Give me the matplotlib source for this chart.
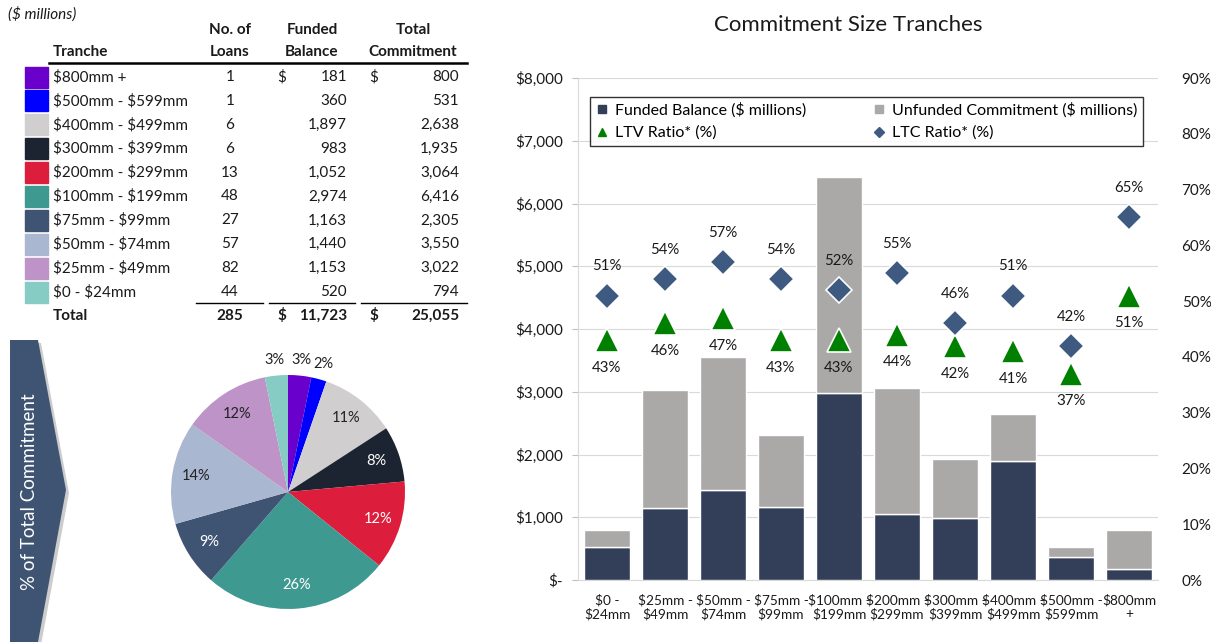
import matplotlib
matplotlib.use("Agg")
import matplotlib.pyplot as plt
from matplotlib.patches import Polygon, Rectangle
from matplotlib.lines import Line2D
import numpy as np

plt.rcParams['font.family'] = ['Lato', 'DejaVu Sans']
plt.rcParams['text.parse_math'] = False

# ---------------- data ----------------
tranches = ["$800mm +", "$500mm - $599mm", "$400mm - $499mm", "$300mm - $399mm",
            "$200mm - $299mm", "$100mm - $199mm", "$75mm - $99mm", "$50mm - $74mm",
            "$25mm - $49mm", "$0 - $24mm"]
tranche_colors = ["#6A00CC", "#0000FF", "#D0CECE", "#1C2331", "#DC1E3C",
                  "#3E9990", "#3F5473", "#A9B7D0", "#BE93C8", "#86CBC4"]
num_loans = [1, 1, 6, 6, 13, 48, 27, 57, 82, 44]
funded_balance = [181, 360, 1897, 983, 1052, 2974, 1163, 1440, 1153, 520]
total_commitment = [800, 531, 2638, 1935, 3064, 6416, 2305, 3550, 3022, 794]

bar_labels = ["$0 -\n$24mm", "$25mm -\n$49mm", "$50mm -\n$74mm", "$75mm -\n$99mm",
              "$100mm -\n$199mm", "$200mm -\n$299mm", "$300mm -\n$399mm",
              "$400mm -\n$499mm", "$500mm -\n$599mm", "$800mm\n+"]
bar_funded = [520, 1153, 1440, 1163, 2974, 1052, 983, 1897, 360, 181]
bar_total = [794, 3022, 3550, 2305, 6416, 3064, 1935, 2638, 531, 800]
ltv_ratio = [43, 46, 47, 43, 43, 44, 42, 41, 37, 51]
ltc_ratio = [51, 54, 57, 54, 52, 55, 46, 51, 42, 65]

pie_label_colors = ["#222222", "#222222", "#222222", "white", "white",
                    "white", "white", "#222222", "#222222", "#222222"]

W, H = 1211, 642
fig = plt.figure(figsize=(W / 100, H / 100), dpi=100)

# ---------------- background (pixel coords) ----------------
bg = fig.add_axes([0, 0, 1, 1])
bg.set_xlim(0, W)
bg.set_ylim(H, 0)
bg.axis('off')

txt = "#1a1a1a"
fs = 11
bg.text(8, 14, "($ millions)", fontsize=fs, style='italic', color=txt, va='center')
bg.text(53, 52, "Tranche", fontsize=fs, weight='bold', color=txt, va='center')
bg.text(230, 30, "No. of", fontsize=fs, weight='bold', color=txt, va='center', ha='center')
bg.text(230, 52, "Loans", fontsize=fs, weight='bold', color=txt, va='center', ha='center')
bg.text(312, 30, "Funded", fontsize=fs, weight='bold', color=txt, va='center', ha='center')
bg.text(312, 52, "Balance", fontsize=fs, weight='bold', color=txt, va='center', ha='center')
bg.text(413, 30, "Total", fontsize=fs, weight='bold', color=txt, va='center', ha='center')
bg.text(413, 52, "Commitment", fontsize=fs, weight='bold', color=txt, va='center', ha='center')
bg.plot([49, 467], [63, 63], color="black", lw=1.8)

row0, dy = 77, 23.9
for i, name in enumerate(tranches):
    y = row0 + i * dy
    bg.add_patch(Rectangle((25, y - 10.5), 23, 21, color=tranche_colors[i]))
    bg.text(53, y, name, fontsize=fs, color=txt, va='center')
    bg.text(230, y, f"{num_loans[i]}", fontsize=fs, color=txt, va='center', ha='center')
    bg.text(347, y, f"{funded_balance[i]:,}", fontsize=fs, color=txt, va='center', ha='right')
    bg.text(459, y, f"{total_commitment[i]:,}", fontsize=fs, color=txt, va='center', ha='right')
    if i == 0:
        bg.text(277, y, "$", fontsize=fs, color=txt, va='center')
        bg.text(369, y, "$", fontsize=fs, color=txt, va='center')

yt = 316
for x0, x1 in [(196, 263), (269, 355), (361, 467)]:
    bg.plot([x0, x1], [303, 303], color="black", lw=1.0)
bg.text(53, yt, "Total", fontsize=fs, weight='bold', color=txt, va='center')
bg.text(230, yt, f"{sum(num_loans)}", fontsize=fs, weight='bold', color=txt, va='center', ha='center')
bg.text(277, yt, "$", fontsize=fs, weight='bold', color=txt, va='center')
bg.text(347, yt, f"{sum(funded_balance):,}", fontsize=fs, weight='bold', color=txt, va='center', ha='right')
bg.text(369, yt, "$", fontsize=fs, weight='bold', color=txt, va='center')
bg.text(459, yt, f"{sum(total_commitment):,}", fontsize=fs, weight='bold', color=txt, va='center', ha='right')

# banner chevron
shadow = Polygon([(12, 343), (41, 343), (69, 493), (41, 645), (12, 645)],
                 closed=True, color="#9a9a9a", alpha=0.5, lw=0)
bg.add_patch(shadow)
banner = Polygon([(10, 340), (38, 340), (66, 490), (38, 642), (10, 642)],
                 closed=True, color="#3F5473", lw=0)
bg.add_patch(banner)
bg.text(30, 492, "% of Total Commitment", rotation=90, color="white",
        fontsize=13.5, ha='center', va='center')
bg.set_zorder(0)

# ---------------- pie ----------------
cx, cy, r = 288, 492, 117
pax = fig.add_axes([(cx - r) / W, (H - cy - r) / H, 2 * r / W, 2 * r / H])
wedges, _ = pax.pie(total_commitment, colors=tranche_colors, startangle=90,
                    counterclock=False, radius=1.0,
                    wedgeprops=dict(linewidth=0))
pax.set_xlim(-1, 1)
pax.set_ylim(-1, 1)
pax.set_aspect('auto')
tot = sum(total_commitment)
for i, w in enumerate(wedges):
    pct = total_commitment[i] / tot * 100
    ang = np.deg2rad((w.theta1 + w.theta2) / 2)
    d = 1.13 if pct < 5 else 0.8
    pax.text(d * np.cos(ang), d * np.sin(ang), f"{pct:.0f}%", ha='center', va='center',
             fontsize=10.5, color=pie_label_colors[i])

# ---------------- bar chart ----------------
left, right, top, bottom = 578, 1158, 78, 580
ax = fig.add_axes([left / W, (H - bottom) / H, (right - left) / W, (bottom - top) / H])
x = np.arange(len(bar_labels))
unfunded = [t - f for t, f in zip(bar_total, bar_funded)]
navy = "#333F58"
gray = "#ABA8A8"
ax.bar(x, bar_funded, width=0.8, color=navy, edgecolor="white", linewidth=1.0, zorder=3)
ax.bar(x, unfunded, bottom=bar_funded, width=0.8, color=gray, edgecolor="white",
       linewidth=1.0, zorder=3)
ax.set_xlim(-0.5, len(x) - 0.5)
ax.set_ylim(0, 8000)
ax.set_yticks(range(0, 8001, 1000))
ax.set_yticklabels(["$-"] + [f"${v:,}" for v in range(1000, 8001, 1000)])
ax.yaxis.grid(True, color="#D9D9D9", lw=0.8, zorder=0)
ax.set_axisbelow(True)
ax.set_xticks(x)
ax.set_xticklabels(bar_labels, fontsize=9.8, linespacing=1.15)
ax.tick_params(axis='x', length=0, pad=10, colors=txt)
ax.tick_params(axis='y', labelsize=11, length=4, color="#BFBFBF", pad=7, colors=txt)
for s in ["top", "right"]:
    ax.spines[s].set_visible(False)
ax.spines["left"].set_color("#D9D9D9")
ax.spines["bottom"].set_color("#D9D9D9")

ax2 = ax.twinx()
ax2.set_ylim(0, 90)
ax2.set_yticks(range(0, 91, 10))
ax2.set_yticklabels([f"{v}%" for v in range(0, 91, 10)])
ax2.tick_params(axis='y', labelsize=11, length=0, pad=17, colors=txt)
for s in ax2.spines.values():
    s.set_visible(False)

green = "#008000"
slate = "#3F5A80"
ax2.plot(x, ltv_ratio, linestyle='none', marker='^', markersize=17, color=green,
         markeredgecolor="white", markeredgewidth=1.2, zorder=5)
ax2.plot(x, ltc_ratio, linestyle='none', marker='D', markersize=13, color=slate,
         markeredgecolor="white", markeredgewidth=1.2, zorder=5)
for i in range(len(x)):
    ax2.annotate(f"{ltc_ratio[i]}%", (x[i], ltc_ratio[i]), xytext=(0, 21),
                 textcoords='offset points', ha='center', va='center', fontsize=10.8, color=txt)
    ax2.annotate(f"{ltv_ratio[i]}%", (x[i], ltv_ratio[i]), xytext=(0, -20),
                 textcoords='offset points', ha='center', va='center', fontsize=10.8, color=txt)

handles = [
    Line2D([], [], linestyle='none', marker='s', markersize=6, color=navy),
    Line2D([], [], linestyle='none', marker='^', markersize=6, color=green),
    Line2D([], [], linestyle='none', marker='s', markersize=6, color=gray),
    Line2D([], [], linestyle='none', marker='D', markersize=5, color=slate),
]
labels = ["Funded Balance ($ millions)", "LTV Ratio* (%)",
          "Unfunded Commitment ($ millions)", "LTC Ratio* (%)"]
leg = ax2.legend(handles, labels, ncol=2, loc='lower left', mode='expand',
                 bbox_to_anchor=(0.021, 0.865, 0.953, 0.107), fontsize=11.5,
                 frameon=True, fancybox=False, edgecolor="black", handlelength=0.8,
                 handletextpad=0.4, borderaxespad=0, labelspacing=0.5, borderpad=0.35)
leg.get_frame().set_linewidth(1.0)

bg.text(848, 25, "Commitment Size Tranches", fontsize=16, color=txt, ha='center', va='center')

fig.savefig("out.png", dpi=100)
